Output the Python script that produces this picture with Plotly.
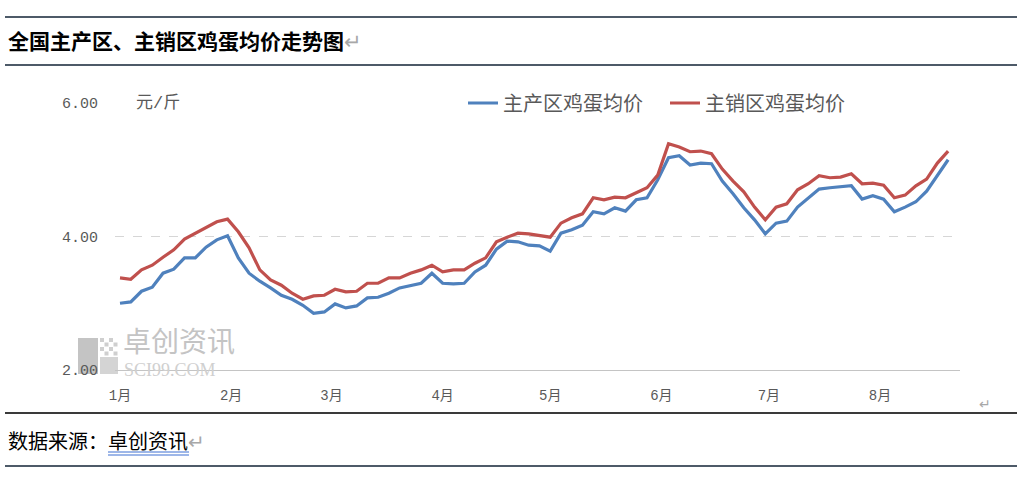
import plotly.graph_objects as go
import pandas as pd

# ---------------- data ----------------
dates = [
    "2022-01-01", "2022-01-04", "2022-01-07", "2022-01-10", "2022-01-13", "2022-01-16",
    "2022-01-19", "2022-01-22", "2022-01-25", "2022-01-28", "2022-01-31",
    "2022-02-03", "2022-02-06", "2022-02-09", "2022-02-12", "2022-02-15", "2022-02-18",
    "2022-02-21", "2022-02-24", "2022-02-27",
    "2022-03-02", "2022-03-05", "2022-03-08", "2022-03-11", "2022-03-14", "2022-03-17",
    "2022-03-20", "2022-03-23", "2022-03-26", "2022-03-29",
    "2022-04-01", "2022-04-04", "2022-04-07", "2022-04-10", "2022-04-13", "2022-04-16",
    "2022-04-19", "2022-04-22", "2022-04-25", "2022-04-28",
    "2022-05-01", "2022-05-04", "2022-05-07", "2022-05-10", "2022-05-13", "2022-05-16",
    "2022-05-19", "2022-05-22", "2022-05-25", "2022-05-28", "2022-05-31",
    "2022-06-03", "2022-06-06", "2022-06-09", "2022-06-12", "2022-06-15", "2022-06-18",
    "2022-06-21", "2022-06-24", "2022-06-27", "2022-06-30",
    "2022-07-03", "2022-07-06", "2022-07-09", "2022-07-12", "2022-07-15", "2022-07-18",
    "2022-07-21", "2022-07-24", "2022-07-27", "2022-07-30",
    "2022-08-02", "2022-08-05", "2022-08-08", "2022-08-11", "2022-08-14", "2022-08-17",
    "2022-08-20",
]

producing_avg = [
    3.00, 3.02, 3.18, 3.24, 3.45, 3.51, 3.68, 3.68, 3.84, 3.95, 4.01,
    3.68, 3.45, 3.33, 3.23, 3.12, 3.06, 2.97, 2.85, 2.87,
    2.99, 2.93, 2.96, 3.08, 3.09, 3.15, 3.23, 3.27, 3.30, 3.45,
    3.30, 3.29, 3.30, 3.47, 3.57, 3.81, 3.93, 3.92, 3.87, 3.86,
    3.78, 4.05, 4.10, 4.17, 4.37, 4.34, 4.43, 4.38, 4.55, 4.58, 4.85,
    5.18, 5.21, 5.07, 5.10, 5.09, 4.83, 4.64, 4.43, 4.25, 4.04,
    4.20, 4.23, 4.44, 4.58, 4.71, 4.73, 4.74, 4.76, 4.56, 4.61,
    4.56, 4.37, 4.44, 4.52, 4.68, 4.92, 5.15,
]

selling_avg = [
    3.38, 3.36, 3.50, 3.57, 3.69, 3.80, 3.96, 4.05, 4.13, 4.22, 4.26,
    4.07, 3.83, 3.50, 3.35, 3.27, 3.15, 3.06, 3.11, 3.12,
    3.21, 3.17, 3.18, 3.30, 3.30, 3.38, 3.38, 3.45, 3.50, 3.57,
    3.47, 3.50, 3.50, 3.60, 3.68, 3.92, 3.99, 4.05, 4.04, 4.01,
    3.99, 4.20, 4.28, 4.34, 4.58, 4.55, 4.59, 4.58, 4.65, 4.73, 4.92,
    5.39, 5.34, 5.27, 5.28, 5.24, 5.01, 4.83, 4.67, 4.44, 4.25,
    4.44, 4.49, 4.70, 4.79, 4.91, 4.88, 4.89, 4.94, 4.79, 4.80,
    4.77, 4.58, 4.62, 4.76, 4.86, 5.10, 5.28,
]

series_names = ["主产区鸡蛋均价", "主销区鸡蛋均价"]
month_ticks = ["2022-01-01", "2022-02-01", "2022-03-01", "2022-04-01",
               "2022-05-01", "2022-06-01", "2022-07-01", "2022-08-01"]
month_labels = ["1月", "2月", "3月", "4月", "5月", "6月", "7月", "8月"]
y_ticks = [2, 4, 6]

title_text = "全国主产区、主销区鸡蛋均价走势图"
unit_text = "元/斤"
source_label = "数据来源："
source_name = "卓创资讯"
watermark_cn = "卓创资讯"
watermark_en = "SCI99.COM"

# ---------------- layout geometry ----------------
W, H = 1024, 481
L, R, T, B = 115, 960, 103, 370
PX_PER_DAY = 3.585
X0_PX = 120

def px(x):
    return (x - L) / (R - L)

def py(y):
    return (B - y) / (B - T)

t0 = pd.Timestamp(dates[0])
x_range = [t0 - pd.Timedelta(days=(X0_PX - L) / PX_PER_DAY),
           t0 + pd.Timedelta(days=(R - X0_PX) / PX_PER_DAY)]

GRAY = "#595959"
NUM_FONT = "Liberation Mono, Noto Sans CJK SC"
CJK_FONT = "Noto Sans CJK SC"

fig = go.Figure()
fig.add_trace(go.Scatter(x=dates, y=producing_avg, name=series_names[0], mode="lines",
                         line=dict(color="#4F81BD", width=3.2)))
fig.add_trace(go.Scatter(x=dates, y=selling_avg, name=series_names[1], mode="lines",
                         line=dict(color="#C0504D", width=3.2)))

shapes = []
# separator lines
for yy, col in [(17, "#4d5a68"), (65, "#4d5a68"), (413, "#3a3a3a"), (466, "#4d5a68")]:
    shapes.append(dict(type="line", xref="paper", yref="paper",
                       x0=px(5), x1=px(1017), y0=py(yy), y1=py(yy),
                       line=dict(color=col, width=2)))
# double underline under the source name
for yy in (452, 455):
    shapes.append(dict(type="line", xref="paper", yref="paper",
                       x0=px(108), x1=px(189), y0=py(yy), y1=py(yy),
                       line=dict(color="#3d6fd1", width=1)))
# watermark logo blocks
logo = [(78, 338, 98, 374, "#c4c4c4"), (100, 357, 118, 374, "#d4d4d4")]
for i in range(4):
    for j in range(4):
        if (i + j) % 2 == 0:
            logo.append((100 + 4.5 * i, 338 + 4.5 * j, 104 + 4.5 * i, 342 + 4.5 * j, "#cfcfcf"))
for (xa, ya, xb, yb, c) in logo:
    shapes.append(dict(type="rect", xref="paper", yref="paper",
                       x0=px(xa), x1=px(xb), y0=py(yb), y1=py(ya),
                       fillcolor=c, line=dict(width=0), layer="below"))

annotations = [
    dict(text="<b>" + title_text + "</b><span style='color:#a8a8a8;font-weight:normal'>↵</span>",
         x=px(6), y=py(40), xref="paper", yref="paper", xanchor="left", yanchor="middle",
         showarrow=False, font=dict(family=CJK_FONT, size=21, color="#000000")),
    dict(text=unit_text, x=px(134), y=py(103), xref="paper", yref="paper",
         xanchor="left", yanchor="middle", showarrow=False,
         font=dict(family=NUM_FONT, size=17, color=GRAY)),
    dict(text=source_label + source_name + "<span style='color:#a8a8a8'>↵</span>",
         x=px(6), y=py(440), xref="paper", yref="paper", xanchor="left", yanchor="middle",
         showarrow=False, font=dict(family=CJK_FONT, size=20, color="#000000")),
    dict(text="↵", x=px(985), y=py(403), xref="paper", yref="paper",
         xanchor="center", yanchor="middle", showarrow=False,
         font=dict(family=CJK_FONT, size=14, color="#a8a8a8")),
    dict(text=watermark_cn, x=px(121), y=py(340), xref="paper", yref="paper",
         xanchor="left", yanchor="middle", showarrow=False,
         font=dict(family=CJK_FONT, size=28, color="#c4c4c4")),
    dict(text=watermark_en, x=px(122), y=py(370), xref="paper", yref="paper",
         xanchor="left", yanchor="middle", showarrow=False,
         font=dict(family="Liberation Serif", size=18, color="#d0d0d0")),
]

fig.update_layout(
    width=W, height=H, autosize=False,
    margin=dict(l=L, r=W - R, t=T, b=H - B, pad=0),
    paper_bgcolor="white", plot_bgcolor="white",
    showlegend=True,
    legend=dict(orientation="h", x=px(463), y=1.0, xanchor="left", yanchor="middle",
                font=dict(family=CJK_FONT, size=20, color=GRAY),
                entrywidth=157, entrywidthmode="pixels",
                bgcolor="rgba(0,0,0,0)", borderwidth=0),
    shapes=shapes, annotations=annotations,
    hovermode=False,
)
fig.update_xaxes(type="date", range=x_range, tickvals=month_ticks, ticktext=month_labels,
                 showgrid=False, showline=True, linecolor="#c4c4c4", linewidth=1,
                 ticks="", ticklabelstandoff=12, zeroline=False,
                 tickfont=dict(family=NUM_FONT, size=14, color=GRAY))
fig.update_yaxes(range=[2, 6], tickvals=y_ticks, tickformat=".2f",
                 showgrid=True, gridcolor="#d6d6d6", griddash="dash", gridwidth=1,
                 showline=False, zeroline=False, ticks="", ticklabelstandoff=16,
                 tickfont=dict(family=NUM_FONT, size=15, color=GRAY))

fig.write_html("out.html", config={"displayModeBar": False},
               post_script="document.body.style.margin='0';document.body.style.overflow='hidden';")
